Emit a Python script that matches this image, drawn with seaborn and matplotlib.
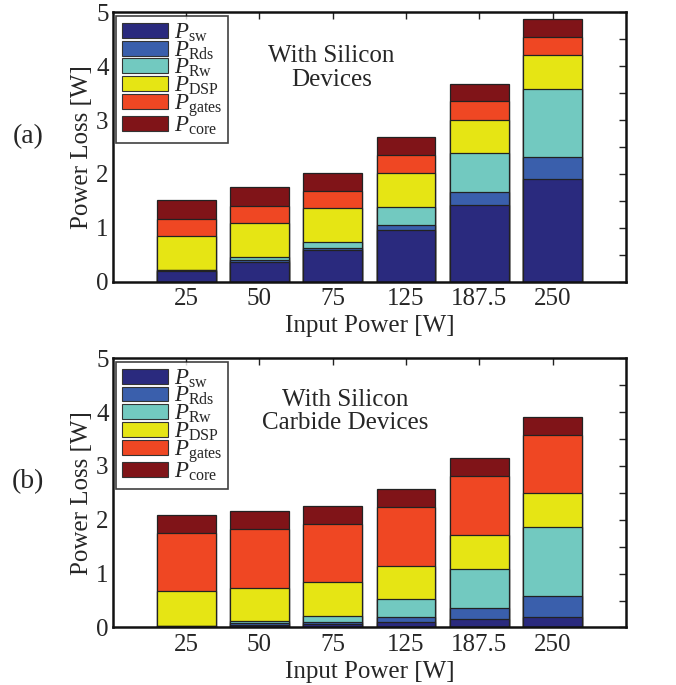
import matplotlib
matplotlib.use("Agg")
import matplotlib.pyplot as plt
import seaborn as sns
import numpy as np
import pandas as pd
from matplotlib.patches import Patch

categories = ["25", "50", "75", "125", "187.5", "250"]
series_names = ["sw", "Rds", "Rw", "DSP", "gates", "core"]
series_labels = [r"$P_{\rm sw}$", r"$P_{\rm Rds}$", r"$P_{\rm Rw}$",
                 r"$P_{\rm DSP}$", r"$P_{\rm gates}$", r"$P_{\rm core}$"]
colors = ["#2a2a7e", "#3a5fac", "#72c9c0", "#e6e514", "#ef4723", "#801418"]

# (a) Silicon devices
si_sw    = [0.19, 0.37, 0.59, 0.96, 1.43, 1.91]
si_rds   = [0.03, 0.03, 0.03, 0.09, 0.23, 0.40]
si_rw    = [0.00, 0.06, 0.11, 0.33, 0.72, 1.27]
si_dsp   = [0.62, 0.62, 0.63, 0.63, 0.62, 0.63]
si_gates = [0.33, 0.33, 0.33, 0.34, 0.35, 0.33]
si_core  = [0.34, 0.34, 0.33, 0.33, 0.32, 0.34]

# (b) Silicon carbide devices
sic_sw    = [0.025, 0.04, 0.06, 0.10, 0.16, 0.20]
sic_rds   = [0.005, 0.035, 0.04, 0.10, 0.21, 0.39]
sic_rw    = [0.00, 0.045, 0.12, 0.32, 0.71, 1.28]
sic_dsp   = [0.64, 0.62, 0.62, 0.63, 0.64, 0.63]
sic_gates = [1.09, 1.09, 1.09, 1.09, 1.09, 1.08]
sic_core  = [0.33, 0.33, 0.33, 0.33, 0.33, 0.33]

panels = [
    ([si_sw, si_rds, si_rw, si_dsp, si_gates, si_core], "With Silicon\nDevices", (1.98, 3.96), "(a)"),
    ([sic_sw, sic_rds, sic_rw, sic_dsp, sic_gates, sic_core], "With Silicon\nCarbide Devices", (2.17, 4.01), "(b)"),
]

sns.set_theme(style="white")
plt.rcParams["font.family"] = ["Liberation Serif", "DejaVu Serif"]
plt.rcParams["mathtext.fontset"] = "custom"
plt.rcParams["mathtext.rm"] = "Liberation Serif"
plt.rcParams["mathtext.it"] = "Liberation Serif:italic"

fig = plt.figure(figsize=(6.76, 6.85), dpi=100)
ax_rects = [[0.167, 0.589, 0.759, 0.393], [0.167, 0.084, 0.759, 0.393]]

for rect, (series, title, tpos, tag) in zip(ax_rects, panels):
    ax = fig.add_axes(rect)
    arr = np.array(series)
    cum = np.cumsum(arr, axis=0)
    for i in range(len(series_names) - 1, -1, -1):
        df = pd.DataFrame({"cat": categories, "val": cum[i]})
        sns.barplot(data=df, x="cat", y="val", color=colors[i], saturation=1,
                    width=0.8, edgecolor="#222222", linewidth=0.9, ax=ax,
                    order=categories)
    ax.set_xlim(-1, 6)
    ax.set_ylim(0, 5)
    ax.set_yticks([0, 1, 2, 3, 4, 5])
    ax.set_yticks(np.arange(0.5, 5, 1.0), minor=True)
    ax.tick_params(axis="both", which="both", direction="in", top=True, right=True,
                   labelsize=18, length=5, width=1, color="#222222")
    ax.tick_params(axis="x", pad=5)
    ax.tick_params(axis="y", pad=3)
    for s in ax.spines.values():
        s.set_linewidth(1.8)
        s.set_color("#111111")
    ax.set_xlabel("Input Power [W]", fontsize=18, labelpad=3)
    ax.set_ylabel("Power Loss [W]", fontsize=18, labelpad=2)
    ax.text(tpos[0], tpos[1], title, ha="center", va="center", fontsize=18,
            linespacing=1.1)
    handles = [Patch(facecolor=c, edgecolor="#333333", linewidth=0.8) for c in colors]
    leg = ax.legend(handles, series_labels, loc="upper left", fontsize=16.5,
                    handlelength=2.0, handleheight=0.62, labelspacing=-0.2,
                    handletextpad=0.25, borderpad=0.25, borderaxespad=0.15,
                    frameon=True, fancybox=False, edgecolor="#111111")
    leg.get_frame().set_linewidth(1.2)
    fig.text(0.042, rect[1] + rect[3] * 0.54, tag, fontsize=20, ha="center", va="center")

fig.savefig("out.png", dpi=100)
